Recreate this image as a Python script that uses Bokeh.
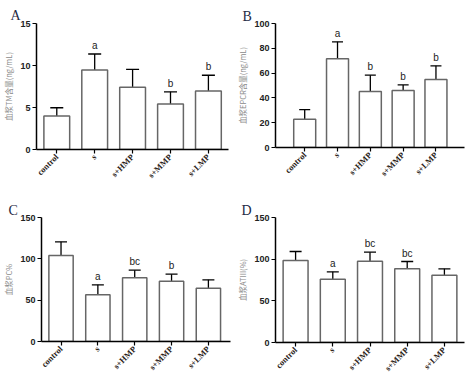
from bokeh.plotting import figure
from bokeh.models import (ColumnDataSource, Range1d, FixedTicker, Whisker, TeeHead)
from bokeh.layouts import column, row
from bokeh.embed import file_html
from bokeh.resources import INLINE
from bokeh.core.properties import value

categories = ["control", "s", "s+HMP", "s+MMP", "s+LMP"]

tm_mean = [4.0, 9.47, 7.42, 5.41, 6.95]
tm_sd = [0.97, 1.90, 2.13, 1.46, 1.89]
tm_marks = ["", "a", "", "b", "b"]

epcr_mean = [22.7, 71.5, 45.2, 46.0, 54.8]
epcr_sd = [7.9, 13.7, 13.1, 4.5, 11.1]
epcr_marks = ["", "a", "b", "b", "b"]

pc_mean = [104.0, 56.5, 77.0, 73.0, 64.5]
pc_sd = [16.6, 12.0, 9.3, 8.5, 10.1]
pc_marks = ["", "a", "bc", "b", ""]

at_mean = [98.4, 76.0, 97.6, 88.4, 80.8]
at_sd = [10.8, 8.8, 10.8, 8.8, 7.6]
at_marks = ["", "a", "bc", "bc", ""]


def panel(letter, ylabel, means, sds, marks, ymax, ystep, x_start, x_end,
          fw, fh, bl, br, bt, bar_w, cap, lx, standoff):
    xs = list(range(len(categories)))
    tops = [m + s for m, s in zip(means, sds)]
    src = ColumnDataSource(dict(x=xs, m=means, top=tops, mark=marks))
    p = figure(frame_width=fw, frame_height=fh, output_backend="svg", toolbar_location=None,
               x_range=Range1d(x_start, x_end), y_range=Range1d(0, ymax),
               min_border_left=bl, min_border_right=br, min_border_top=bt,
               min_border_bottom=20, title=letter)
    p.title.align = "left"
    p.title.offset = lx - bl
    p.title.standoff = standoff
    p.title.text_font = "Liberation Serif"
    p.title.text_font_style = "normal"
    p.title.text_font_size = "14px"
    p.title.text_color = "#1f2a44"
    p.title.text_line_height = 0.9
    p.title.vertical_align = "bottom"

    p.outline_line_color = None
    p.xgrid.visible = False
    p.ygrid.visible = False
    p.background_fill_color = "white"

    p.vbar(x="x", top="m", bottom=0, width=bar_w, source=src,
           fill_color="white", line_color="#666666", line_width=1.5)
    w = Whisker(base="x", upper="top", lower="m", source=src, dimension="height",
                line_color="black", line_width=1.3,
                upper_head=TeeHead(size=cap, line_color="black", line_width=1.3),
                lower_head=None)
    p.add_layout(w)
    p.text(x="x", y="top", text="mark", source=src, text_align="center",
           text_baseline="bottom", y_offset=-3, text_font=value("Liberation Sans"),
           text_font_size="10px", text_color="#222222")

    ax = p.xaxis[0]
    ax.ticker = FixedTicker(ticks=xs)
    ax.major_label_overrides = {i: c for i, c in enumerate(categories)}
    ax.major_label_orientation = 0.785
    ax.major_label_text_font = "Liberation Serif"
    ax.major_label_text_font_style = "bold"
    ax.major_label_text_font_size = "8.5px"
    ax.major_label_text_color = "#2a2218"
    ax.minor_tick_line_color = None
    ax.major_tick_out = 4
    ax.major_tick_in = 0
    ax.axis_line_width = 1.5
    ax.major_tick_line_width = 1.2
    ax.major_label_standoff = 2

    ay = p.yaxis[0]
    ay.ticker = FixedTicker(ticks=list(range(0, ymax + 1, ystep)))
    ay.major_label_text_font = "Liberation Sans"
    ay.major_label_text_font_style = "bold"
    ay.major_label_text_font_size = "9px"
    ay.major_label_text_color = "#222222"
    ay.minor_tick_line_color = None
    ay.major_tick_out = 4
    ay.major_tick_in = 0
    ay.axis_line_width = 1.5
    ay.major_tick_line_width = 1.2
    ay.major_label_standoff = 2
    ay.axis_label = ylabel
    ay.axis_label_text_font = "Noto Sans CJK SC"
    ay.axis_label_text_font_style = "normal"
    ay.axis_label_text_font_size = "7.5px"
    ay.axis_label_text_color = "#8a8a8a"
    ay.axis_label_standoff = 3
    return p


pA = panel("A", "血浆TM含量(ng/mL)", tm_mean, tm_sd, tm_marks, 15, 5,
           -0.535, 4.53, 192, 126, 28, 6, 21, 0.68, 13, 2, 1)
pB = panel("B", "血浆EPCR含量(ng/mL)", epcr_mean, epcr_sd, epcr_marks, 100, 20,
           -0.89, 4.87, 189, 124, 36, 1, 23, 0.67, 11, 3, 0)
pC = panel("C", "血浆PC%", pc_mean, pc_sd, pc_marks, 150, 50,
           -0.53, 4.6, 189, 124, 33, 4, 33, 0.66, 12, 0, 0)
pD = panel("D", "血浆ATIII(%)", at_mean, at_sd, at_marks, 150, 50,
           -0.54, 4.54, 189, 125, 39, 2, 33, 0.67, 12, 5, 0)

layout = column(row(pA, pB), row(pC, pD))
open("out.html", "w").write(file_html(layout, INLINE))
